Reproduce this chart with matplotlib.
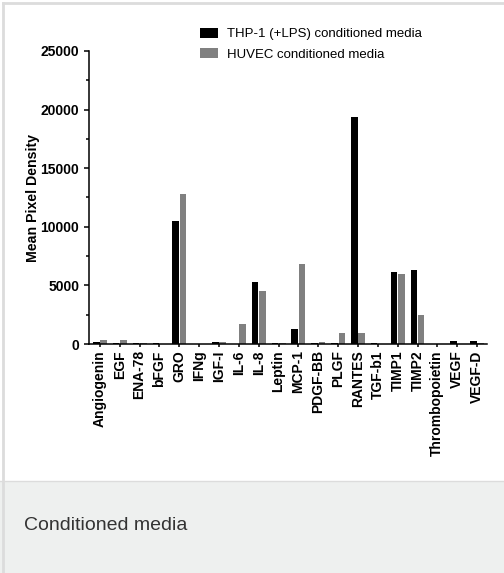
import numpy as np
import matplotlib
matplotlib.use("Agg")
import matplotlib.pyplot as plt
from matplotlib.patches import Rectangle
from matplotlib.lines import Line2D
from matplotlib.ticker import MultipleLocator

plt.rcParams['font.family'] = ['Liberation Sans', 'DejaVu Sans']

cytokines = ['Angiogenin', 'EGF', 'ENA-78', 'bFGF', 'GRO', 'IFNg', 'IGF-I', 'IL-6',
             'IL-8', 'Leptin', 'MCP-1', 'PDGF-BB', 'PLGF', 'RANTES', 'TGF-b1',
             'TIMP1', 'TIMP2', 'Thrombopoietin', 'VEGF', 'VEGF-D']
thp1 = [170, 100, 80, 60, 10500, 20, 200, 0, 5290, 80, 1310, 70, 80, 19400, 60,
        6170, 6290, 30, 280, 230]
huvec = [370, 350, 50, 0, 12830, 10, 150, 1710, 4550, 80, 6800, 150, 970, 910, 30,
         6000, 2500, 0, 30, 100]

fig = plt.figure(figsize=(5.04, 5.73), dpi=100)
W, H = 504, 573

# caption panel at the bottom
fig.patches.append(Rectangle((0, 0), 1, (H - 481) / H, transform=fig.transFigure,
                             facecolor='#eef0ef', edgecolor='none', zorder=0))
fig.lines.append(Line2D([0, 1], [(H - 481) / H] * 2, transform=fig.transFigure,
                        color='#dcdcdc', lw=1))
fig.lines.append(Line2D([3 / W, 3 / W], [0, 1 - 3 / H], transform=fig.transFigure,
                        color='#dcdcdc', lw=2))
fig.lines.append(Line2D([3 / W, 1], [1 - 3 / H] * 2, transform=fig.transFigure,
                        color='#dcdcdc', lw=2))
fig.text(24 / W, 1 - 525 / H, 'Conditioned media', fontsize=14, color='#333333',
         va='center', ha='left')

ax = fig.add_axes([89 / W, 1 - 344 / H, (487 - 89) / W, (344 - 51) / H])
x = np.arange(len(cytokines))
w = 0.33
ax.bar(x - w / 2 - 0.02, thp1, width=w, color='black', label='THP-1 (+LPS) conditioned media')
ax.bar(x + w / 2 + 0.02, huvec, width=w, color='#808080', label='HUVEC conditioned media')

ax.set_xlim(-0.55, 19.5)
ax.set_ylim(0, 25000)
ax.yaxis.set_major_locator(MultipleLocator(5000))
ax.yaxis.set_minor_locator(MultipleLocator(2500))
ax.set_xticks(x)
ax.set_xticklabels(cytokines, rotation=90, fontsize=10, fontweight='bold')
for lab in ax.get_yticklabels():
    lab.set_fontweight('bold')
ax.tick_params(axis='y', labelsize=10, width=1.1, length=3.6)
ax.tick_params(axis='y', which='minor', width=1.1, length=2.2)
ax.tick_params(axis='x', width=1.1, length=2.5, pad=2)
ax.set_ylabel('Mean Pixel Density', fontsize=10.2, fontweight='bold', labelpad=0)

for s in ['top', 'right']:
    ax.spines[s].set_visible(False)
for s in ['left', 'bottom']:
    ax.spines[s].set_linewidth(1.1)

fig.legend(loc='upper left', bbox_to_anchor=(200 / W, 1 - 28 / H), frameon=False,
           fontsize=9.5, handlelength=1.4, handleheight=0.75, handletextpad=0.65,
           labelspacing=0.6, borderpad=0, borderaxespad=0)

fig.savefig('out.png', dpi=100)
